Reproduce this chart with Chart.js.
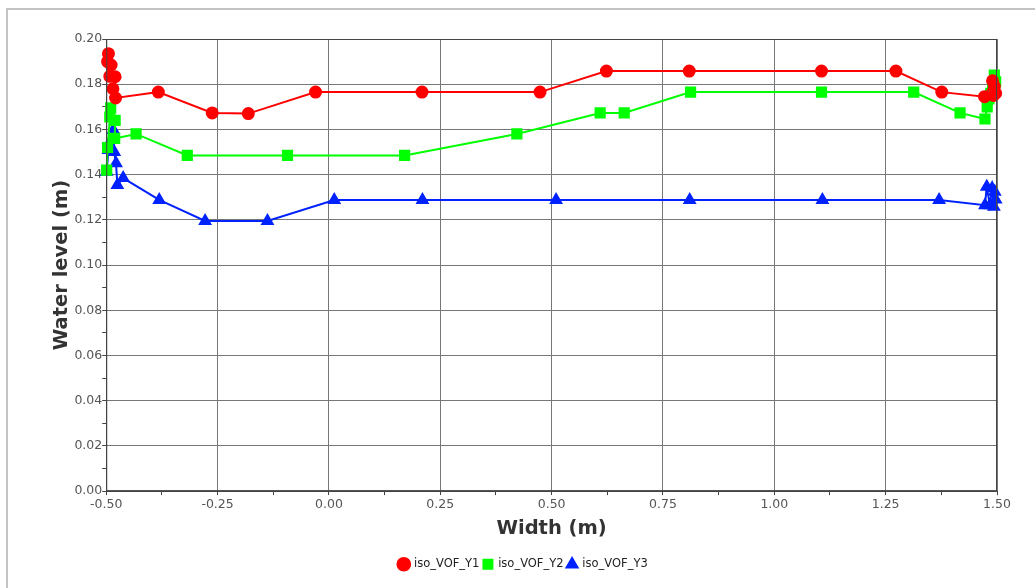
<!DOCTYPE html>
<html>
<head>
<meta charset="utf-8">
<script src="https://cdn.jsdelivr.net/npm/chart.js@4/dist/chart.umd.min.js"></script>
<style>
  html, body { margin: 0; padding: 0; background: #fff; }
  .frame { position: absolute; left: 6px; top: 8px; width: 1200px; height: 800px; border-top: 2px solid #c4c4c4; border-left: 2px solid #c4c4c4; }
  .chart-wrapper { position: absolute; left: 0; top: 0; width: 1035px; height: 588px; }
</style>
</head>
<body>
<div class="frame"></div>
<div class="chart-wrapper"><canvas id="vof-chart"></canvas></div>
<script>
const y1Width = [-0.495, -0.497, -0.489, -0.492, -0.480, -0.485, -0.479, -0.383, -0.262, -0.181, -0.030, 0.209, 0.474, 0.623, 0.809, 1.106, 1.273, 1.376, 1.472, 1.490, 1.494, 1.497, 1.492];
const y1Level = [0.1935, 0.1900, 0.1885, 0.1835, 0.1833, 0.1780, 0.1739, 0.1765, 0.1673, 0.1670, 0.1765, 0.1765, 0.1765, 0.1858, 0.1858, 0.1858, 0.1858, 0.1765, 0.1745, 0.1815, 0.1790, 0.1760, 0.1750];

const y2Width = [-0.499, -0.497, -0.490, -0.492, -0.480, -0.481, -0.433, -0.318, -0.093, 0.170, 0.422, 0.609, 0.663, 0.812, 1.106, 1.313, 1.417, 1.473, 1.478, 1.482, 1.486, 1.490, 1.494, 1.497];
const y2Level = [0.1420, 0.1520, 0.1695, 0.1655, 0.1640, 0.1560, 0.1580, 0.1485, 0.1485, 0.1485, 0.1580, 0.1673, 0.1673, 0.1765, 0.1765, 0.1765, 0.1673, 0.1646, 0.1700, 0.1735, 0.1760, 0.1790, 0.1840, 0.1810];

const y3Width = [-0.499, -0.495, -0.489, -0.484, -0.482, -0.478, -0.475, -0.462, -0.381, -0.278, -0.138, 0.012, 0.210, 0.510, 0.810, 1.108, 1.370, 1.473, 1.477, 1.484, 1.489, 1.493, 1.495, 1.497];
const y3Level = [0.1413, 0.1509, 0.1553, 0.1597, 0.1500, 0.1450, 0.1354, 0.1385, 0.1288, 0.1195, 0.1195, 0.1288, 0.1288, 0.1288, 0.1288, 0.1288, 0.1288, 0.1265, 0.1346, 0.1265, 0.1340, 0.1258, 0.1324, 0.1290];

const seriesNames = ["iso_VOF_Y1", "iso_VOF_Y2", "iso_VOF_Y3"];
const xTickLabels = ["-0.50", "-0.25", "0.00", "0.25", "0.50", "0.75", "1.00", "1.25", "1.50"];
const yTickLabels = ["0.00", "0.02", "0.04", "0.06", "0.08", "0.10", "0.12", "0.14", "0.16", "0.18", "0.20"];

const toPoints = (xs, ys) => xs.map((x, i) => ({ x: x, y: ys[i] }));

const tickFont = { family: "DejaVu Sans", size: 12.5 };
const titleFont = { family: "DejaVu Sans", size: 19.5, weight: "bold" };

document.addEventListener("DOMContentLoaded", () => {
  const canvas = document.querySelector("#vof-chart");

  new Chart(canvas, {
    type: "line",
    data: {
      datasets: [
        {
          label: seriesNames[0],
          data: toPoints(y1Width, y1Level),
          borderColor: "#ff0000",
          backgroundColor: "#ff0000",
          borderWidth: 2,
          pointStyle: "circle",
          pointRadius: 5.5,
          pointHoverRadius: 5.5,
          clip: false
        },
        {
          label: seriesNames[1],
          data: toPoints(y2Width, y2Level),
          borderColor: "#00ff00",
          backgroundColor: "#00ff00",
          borderWidth: 2,
          pointStyle: "rect",
          pointRadius: 6.5,
          pointHoverRadius: 6.5,
          clip: false
        },
        {
          label: seriesNames[2],
          data: toPoints(y3Width, y3Level),
          borderColor: "#0022ff",
          backgroundColor: "#0022ff",
          borderWidth: 2,
          pointStyle: "triangle",
          pointRadius: 6,
          pointHoverRadius: 6,
          clip: false
        }
      ]
    },
    options: {
      responsive: true,
      maintainAspectRatio: false,
      animation: false,
      layout: { padding: { left: 50, right: 38, top: 39, bottom: 8 } },
      plugins: {
        legend: {
          position: "bottom",
          labels: {
            usePointStyle: true,
            boxWidth: 9,
            boxHeight: 9,
            padding: 4,
            color: "#222",
            font: { family: "DejaVu Sans", size: 11.5 }
          }
        },
        tooltip: { enabled: false }
      },
      scales: {
        x: {
          type: "linear",
          min: -0.5,
          max: 1.5,
          border: { color: "#444", width: 1 },
          ticks: {
            stepSize: 0.125,
            autoSkip: false,
            maxRotation: 0,
            color: "#555",
            font: tickFont,
            padding: 2,
            callback: (v) => {
              const i = Math.round((v + 0.5) / 0.25 * 1000) / 1000;
              return Number.isInteger(i) ? xTickLabels[i] : "";
            }
          },
          grid: {
            tickLength: 4,
            tickColor: "#444",
            color: (ctx) => {
              const v = ctx.tick ? ctx.tick.value : 0;
              const i = Math.round((v + 0.5) / 0.125);
              return i % 2 === 0 ? "#777" : "rgba(0,0,0,0)";
            }
          },
          title: {
            display: true,
            text: "Width (m)",
            color: "#333",
            font: titleFont,
            padding: { top: 3, bottom: 14 }
          }
        },
        y: {
          type: "linear",
          min: 0,
          max: 0.2,
          border: { color: "#444", width: 1 },
          ticks: {
            stepSize: 0.01,
            autoSkip: false,
            color: "#555",
            font: tickFont,
            padding: 0,
            callback: (v) => {
              const i = Math.round(v * 100);
              return i % 2 === 0 ? yTickLabels[i / 2] : "";
            }
          },
          grid: {
            tickLength: 4,
            tickColor: "#444",
            color: (ctx) => {
              const v = ctx.tick ? ctx.tick.value : 0;
              return Math.round(v * 100) % 2 === 0 ? "#777" : "rgba(0,0,0,0)";
            }
          },
          title: {
            display: true,
            text: "Water level (m)",
            color: "#333",
            font: titleFont,
            padding: { top: 0, bottom: 1 }
          }
        }
      }
    },
    plugins: [{
      id: "plotBorder",
      afterDraw(chart) {
        const a = chart.chartArea;
        const c = chart.ctx;
        c.save();
        c.strokeStyle = "#444";
        c.lineWidth = 1;
        c.strokeRect(a.left + 0.5, a.top + 0.5, a.right - a.left - 1, a.bottom - a.top - 1);
        c.restore();
      }
    }]
  });
});
</script>
</body>
</html>
